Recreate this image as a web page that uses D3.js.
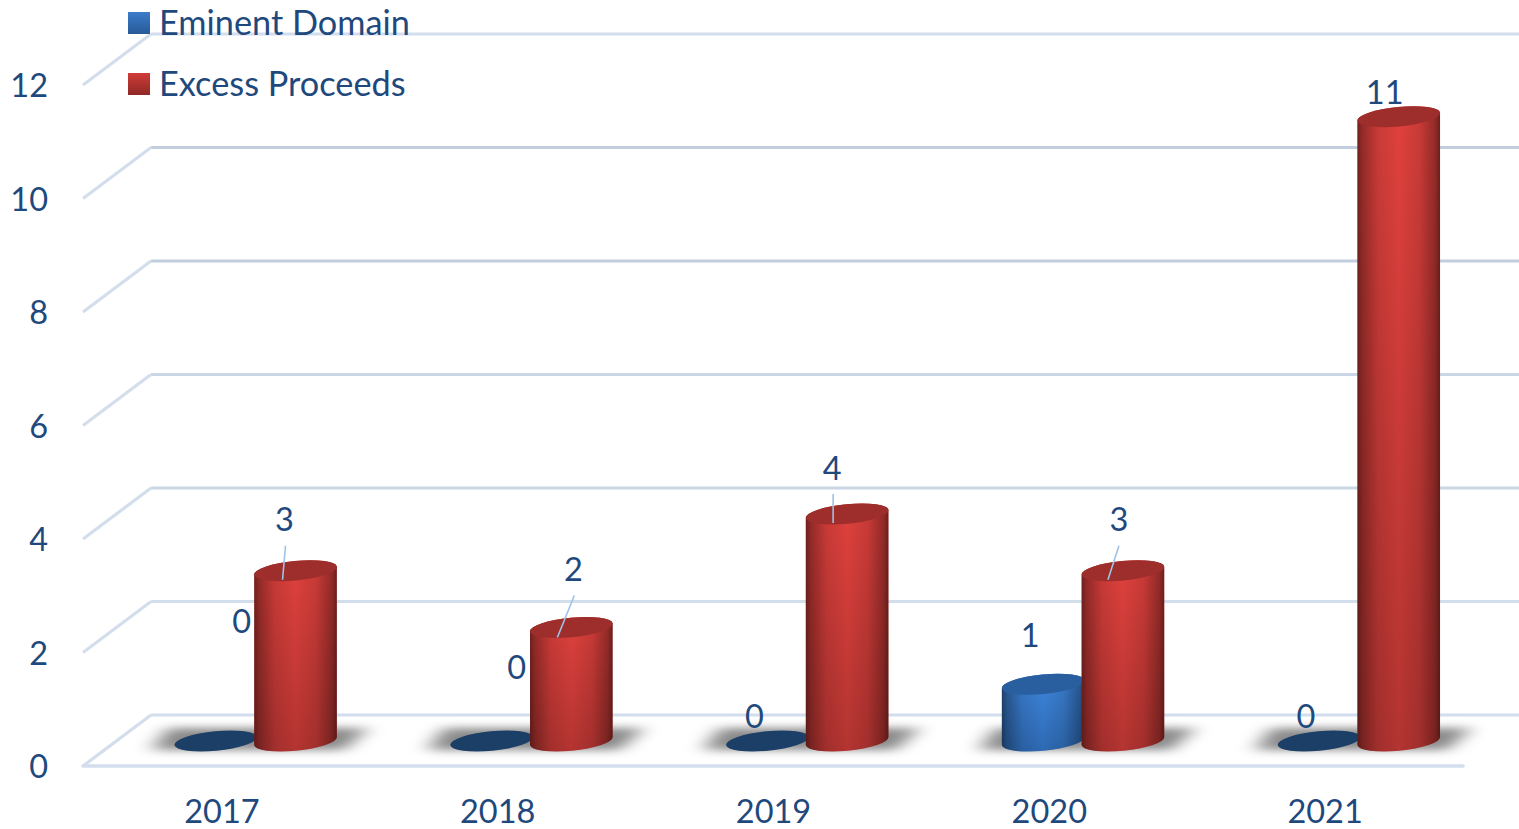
<!DOCTYPE html>
<html><head><meta charset="utf-8">
<script src="https://cdnjs.cloudflare.com/ajax/libs/d3/7.8.5/d3.min.js"></script>
<style>html,body{margin:0;padding:0;background:#fff}svg{display:block}text{font-family:Lato,"Open Sans",sans-serif;fill:#1f497d}</style>
</head><body><svg id="c" width="1519" height="829"></svg>
<script>
const years = ["2017","2018","2019","2020","2021"];
const seriesNames = ["Eminent Domain","Excess Proceeds"];
const eminentDomain = [0,0,0,1,0];
const excessProceeds = [3,2,4,3,11];
const yTicks = [0,2,4,6,8,10,12];
const seriesValues = [eminentDomain, excessProceeds];

const W=1519,H=829,FS=32.5,LFS=34.3;
const svg=d3.select("#c");
const defs=svg.append("defs");
const x=d3.scaleBand().domain(years).range([84,1463]);
const yFront=d3.scaleLinear().domain([0,12]).range([766,85]);
const sub=d3.scaleBand().domain(seriesNames).range([-45.5,114]);
const depthX=68, depthY=51, floorInset=25;
const yBase=v=>yFront(v)-floorInset;
const rx=41.5, ry=9.8, tiltDeg=5.5, tilt=tiltDeg*Math.PI/180;
const ex=rx*Math.cos(tilt), ey=rx*Math.sin(tilt);
const cx=(yr,s)=>x(yr)+x.bandwidth()/2+sub(s)+sub.bandwidth()/2-0.5;

function vert(id,a,b){const g=defs.append("linearGradient").attr("id",id).attr("x1",0).attr("y1",0).attr("x2",0).attr("y2",1);
 g.append("stop").attr("offset",0).attr("stop-color",a);g.append("stop").attr("offset",1).attr("stop-color",b);}
vert("redV","#e0413d","#b33431");
vert("blueV","#3f88e0","#2e69b2");
vert("redL","#d03c38","#8f2825");
vert("blueL","#3b7ccb","#285a96");
const sh=defs.append("linearGradient").attr("id","shade").attr("x1",0).attr("y1",0).attr("x2",1).attr("y2",0);
[[0,.5],[.06,.34],[.25,.1],[.5,0],[.75,.1],[.94,.34],[1,.52]].forEach(([o,a])=>sh.append("stop").attr("offset",o).attr("stop-color","#000").attr("stop-opacity",a));
defs.append("filter").attr("id","blur").attr("filterUnits","userSpaceOnUse").attr("x",0).attr("y",680).attr("width",W).attr("height",110)
 .append("feGaussianBlur").attr("stdDeviation","10 4");

const grid=svg.append("g");
const gridCol=t=>t===8||t===10?"#c2cdde":(t===4||t===6?"#cad5e5":"#d3deed");
yTicks.forEach(t=>{
 const y=yFront(t);
 grid.append("line").attr("x1",x.range()[0]+depthX-1).attr("x2",W).attr("y1",y-depthY).attr("y2",y-depthY)
  .attr("stroke",gridCol(t)).attr("stroke-width",2.8);
 grid.append("line").attr("x1",x.range()[0]-1).attr("x2",x.range()[0]+depthX-1).attr("y1",y).attr("y2",y-depthY)
  .attr("stroke","#d3deed").attr("stroke-width",3.2);
});
grid.append("line").attr("x1",x.range()[0]-1).attr("x2",x.range()[1]).attr("y1",yFront(0)).attr("y2",yFront(0))
 .attr("stroke","#d3deed").attr("stroke-width",3.6).attr("stroke-linecap","round");

const ay=svg.append("g").attr("transform","translate(48,0)").call(d3.axisLeft(yFront).tickValues(yTicks).tickSize(0).tickPadding(0));
ay.select(".domain").remove();
ay.selectAll("text").attr("font-size",FS).attr("dy","0.36em").style("font-family",'Lato,sans-serif').style("fill","#1f497d");
const ax=svg.append("g").attr("transform","translate(0,811)").call(d3.axisBottom(x).tickSize(0).tickPadding(0));
ax.select(".domain").remove();
ax.selectAll("text").attr("font-size",FS).attr("dy","0.36em").attr("y",0).style("font-family",'Lato,sans-serif').style("fill","#1f497d");

const shadows=svg.append("g").attr("filter","url(#blur)");
years.forEach(yr=>{
 const b=x(yr)+x.bandwidth()/2, y0=yBase(0);
 shadows.append("path").attr("fill","#000").attr("fill-opacity",.46)
  .attr("d",d3.line()([[b-70,y0+9],[b+122,y0+9],[b+146,y0-13],[b-54,y0-13]])+"Z");
});

function body(c,y,y0){
 return `M${c-ex},${y+ey}L${c-ex},${y0+ey}A${rx},${ry} ${-tiltDeg} 0 0 ${c+ex},${y0-ey}L${c+ex},${y-ey}A${rx},${ry} ${-tiltDeg} 0 0 ${c-ex},${y+ey}Z`;
}
const cols=svg.append("g");
seriesNames.forEach((s,si)=>{
 const key=si===0?"blue":"red";
 years.forEach((yr,i)=>{
  const v=seriesValues[si][i], c=cx(yr,s), y0=yBase(0), y=yBase(v);
  if(v>0){
   cols.append("path").attr("d",body(c,y,y0)).attr("fill",`url(#${key}V)`);
   cols.append("path").attr("d",body(c,y,y0)).attr("fill","url(#shade)");
   cols.append("ellipse").attr("cx",c).attr("cy",y).attr("rx",rx).attr("ry",ry)
    .attr("transform",`rotate(${-tiltDeg} ${c} ${y})`).attr("fill",si===0?"#2a5f9f":"#9d2e2b");
  } else {
   cols.append("ellipse").attr("cx",c).attr("cy",y).attr("rx",rx).attr("ry",ry)
    .attr("transform",`rotate(${-tiltDeg} ${c} ${y})`).attr("fill","#1c3f68");
  }
 });
});

const labelShift=[[[26,-120],[25,-74],[-13,-25],[-13,-49],[-13,-25]],
                  [[-11,-51],[2,-58],[-15,-46],[-4,-51],[-14,-24]]];
const leader=[[null,null,null,null,null],
              [[[-13,9],[-10,-25]],[[-14,10],[3,-32]],[[-14,9],[-14,-20]],[[-15,9],[-4,-25]],null]];
const labels=svg.append("g");
seriesNames.forEach((s,si)=>years.forEach((yr,i)=>{
 const v=seriesValues[si][i], c=cx(yr,s), y=yBase(v), d=labelShift[si][i], l=leader[si][i];
 if(l) labels.append("line").attr("x1",c+l[0][0]).attr("y1",y+l[0][1]).attr("x2",c+l[1][0]).attr("y2",y+l[1][1])
   .attr("stroke","#9dc3e6").attr("stroke-width",1.6);
 labels.append("text").attr("x",c+d[0]).attr("y",y+d[1]).attr("dy","0.36em").attr("text-anchor","middle").attr("font-size",FS).text(v);
}));

const lg=svg.append("g");
const lgY=d3.scalePoint().domain(seriesNames).range([22.5,83.5]);
seriesNames.forEach((s,si)=>{
 lg.append("rect").attr("x",128).attr("y",Math.round(lgY(s))-11).attr("width",22).attr("height",22).attr("fill",`url(#${si?"redL":"blueL"})`);
 lg.append("text").attr("x",159).attr("y",lgY(s)).attr("dy","0.36em").attr("font-size",LFS).text(s);
});
</script></body></html>
